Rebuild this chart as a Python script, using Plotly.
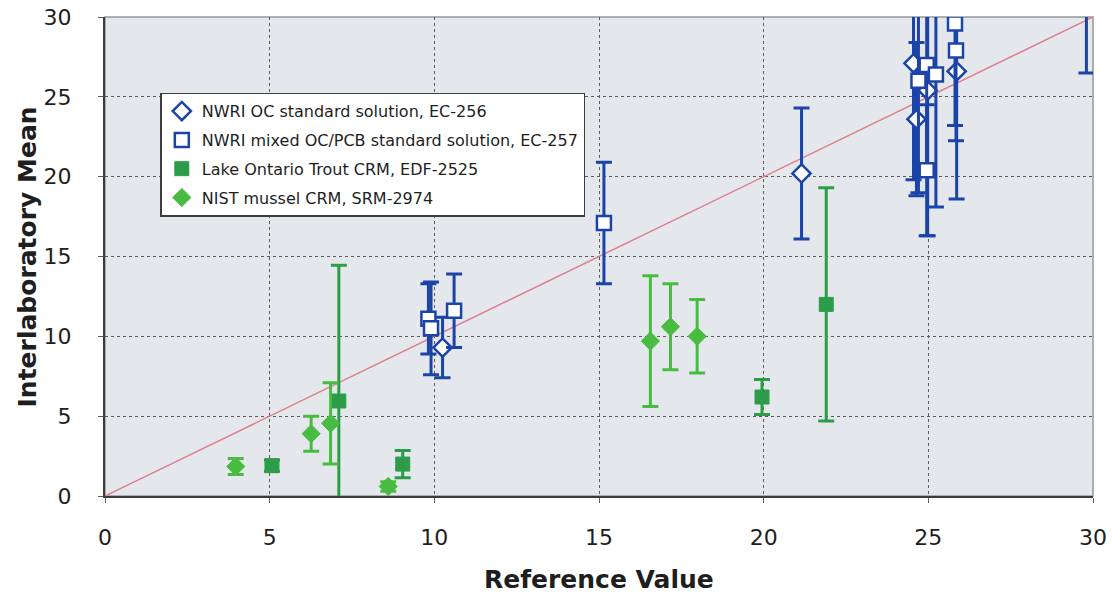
import plotly.graph_objects as go

# NWRI OC standard solution, EC-256 (open diamonds)
ec256_ref = [10.25, 21.15, 24.55, 24.98, 24.64, 25.86]
ec256_mean = [9.3, 20.2, 27.1, 25.4, 23.6, 26.6]
ec256_err = [1.9, 4.1, 7.3, 9.1, 4.8, 8.0]

# NWRI mixed OC/PCB standard solution, EC-257 (open squares)
ec257_ref = [9.82, 9.9, 10.6, 15.15, 24.7, 24.95, 25.23, 24.95, 25.84, 25.81, 29.8]
ec257_mean = [11.1, 10.5, 11.6, 17.1, 26.0, 27.0, 26.4, 20.4, 27.9, 29.6, 31.5]
ec257_err = [2.2, 2.9, 2.3, 3.8, 7.0, 6.5, 8.3, 4.1, 5.65, 6.4, 5.0]

# Lake Ontario Trout CRM, EDF-2525 (filled squares)
edf_ref = [5.07, 7.1, 9.04, 19.95, 21.9]
edf_mean = [1.9, 5.95, 2.0, 6.2, 12.0]
edf_err = [0.35, 8.5, 0.85, 1.1, 7.3]

# NIST mussel CRM, SRM-2974 (filled diamonds)
srm_ref = [3.97, 6.26, 6.85, 8.6, 16.56, 17.17, 17.98]
srm_mean = [1.85, 3.9, 4.55, 0.6, 9.7, 10.6, 10.0]
srm_err = [0.5, 1.1, 2.55, 0.3, 4.1, 2.7, 2.3]

# 1:1 agreement line
identity = [0, 30]

tick_vals = [0, 5, 10, 15, 20, 25, 30]

BLUE = "rgb(28,68,168)"
GREEN_DARK = "rgb(44,156,72)"
GREEN_LIGHT = "rgb(72,188,64)"
TEXT = "rgb(30,30,30)"
FONT = "DejaVu Sans"

fig = go.Figure()

fig.add_trace(go.Scatter(
    x=identity, y=identity, mode="lines",
    line=dict(color="rgb(222,128,140)", width=1.5),
    showlegend=False, hoverinfo="skip",
))

def series(xs, ys, errs, name, symbol, color, fill, msize, lw):
    return go.Scatter(
        x=xs, y=ys, mode="markers", name=name, legendgroup=name,
        marker=dict(symbol=symbol, size=msize, color=fill,
                    line=dict(color=color, width=lw)),
        error_y=dict(type="data", array=errs, visible=True,
                     color=color, thickness=3, width=8),
    )

fig.add_trace(series(ec256_ref, ec256_mean, ec256_err,
                     "NWRI OC standard solution, EC-256",
                     "diamond", BLUE, "white", 14, 2.5))
fig.add_trace(series(ec257_ref, ec257_mean, ec257_err,
                     "NWRI mixed OC/PCB standard solution, EC-257",
                     "square", BLUE, "white", 14, 2.5))
fig.add_trace(series(edf_ref, edf_mean, edf_err,
                     "Lake Ontario Trout CRM, EDF-2525",
                     "square", GREEN_DARK, GREEN_DARK, 14, 1))
fig.add_trace(series(srm_ref, srm_mean, srm_err,
                     "NIST mussel CRM, SRM-2974",
                     "diamond", GREEN_LIGHT, GREEN_LIGHT, 14, 1))

axis_common = dict(
    range=[0, 30], tickvals=tick_vals, showgrid=True,
    gridcolor="rgb(90,90,90)", griddash="dot", gridwidth=1.2,
    showline=True, linecolor="rgb(60,60,60)", linewidth=2,
    ticks="outside", ticklen=5, tickcolor="rgb(90,90,90)",
    tickfont=dict(family=FONT, size=22, color=TEXT),
    zeroline=False, mirror=False, automargin=False,
)

fig.update_layout(
    width=1120, height=600,
    margin=dict(l=105, r=27, t=17, b=104),
    paper_bgcolor="white",
    plot_bgcolor="rgb(228,232,237)",
    xaxis=dict(**axis_common, ticklabelstandoff=16),
    yaxis=dict(**axis_common, ticklabelstandoff=22),
    legend=dict(
        x=0.056, y=0.842, xanchor="left", yanchor="top",
        bgcolor="white", bordercolor="rgb(60,60,60)", borderwidth=1.5,
        font=dict(family=FONT, size=16, color=TEXT),
        traceorder="grouped", tracegroupgap=5, itemwidth=30,
    ),
    shapes=[dict(type="rect", xref="paper", yref="paper", x0=0, y0=0, x1=1, y1=1,
                 line=dict(color="rgb(150,150,150)", width=1.5), layer="below")],
    annotations=[
        dict(text="<b>Reference Value</b>", xref="paper", yref="paper",
             x=0.5, y=-0.175, xanchor="center", yanchor="middle", showarrow=False,
             font=dict(family=FONT, size=25, color=TEXT)),
        dict(text="<b>Interlaboratory Mean</b>", xref="paper", yref="paper",
             x=-0.078, y=0.5, xanchor="center", yanchor="middle", showarrow=False,
             textangle=-90, font=dict(family=FONT, size=25, color=TEXT)),
    ],
)

fig.write_html("out.html")
